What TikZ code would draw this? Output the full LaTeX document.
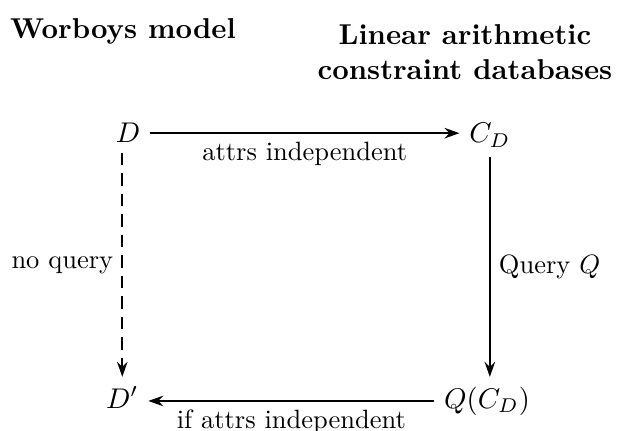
\documentclass[tikz,border=0pt]{standalone}
\usepackage{amsmath}
\usetikzlibrary{arrows.meta}
\begin{document}
\begin{tikzpicture}[
                every node/.style={inner sep=3pt},
                line width=0.9pt,
                >={Stealth[length=6pt,width=4.2pt,inset=2pt]},
                head/.style={font=\bfseries,align=center,scale=1.15},
                obj/.style={anchor=base,scale=1.14},
                edge lbl/.style={scale=1.06},
                dashes/.style={dash pattern=on 5pt off 3.2pt}
            ]
            \useasboundingbox (0,0) rectangle (8.96,6.06);

            % column headings
            \node[head] (hleft) at (1.73,5.62) {Worboys model};
            \node[head] (hright) at (6.54,5.33) {Linear arithmetic\\constraint databases};

            % the four objects
            \node[obj] (d) at (1.80,4.05) {$D$};
            \node[obj] (cd) at (6.89,4.05) {$C_D$};
            \node[obj] (dp) at (1.72,0.32) {$D'$};
            \node[obj] (qcd) at (6.85,0.32) {$Q(C_D)$};

            \draw[->] (d.east) -- node[below,edge lbl] {attrs independent} (cd.west |- d.east);
            \draw[->,dashes] ([xshift=-0.08cm]d.south) -- node[left,edge lbl] {no query} ([xshift=-0.08cm]d.south |- dp.north);
            \draw[->] (cd.south) -- node[right,edge lbl] {Query $Q$} (cd.south |- qcd.north);
            \draw[->] (qcd.west) -- node[below,edge lbl] {if attrs independent} (dp.east |- qcd.west);

        \end{tikzpicture}
\end{document}
